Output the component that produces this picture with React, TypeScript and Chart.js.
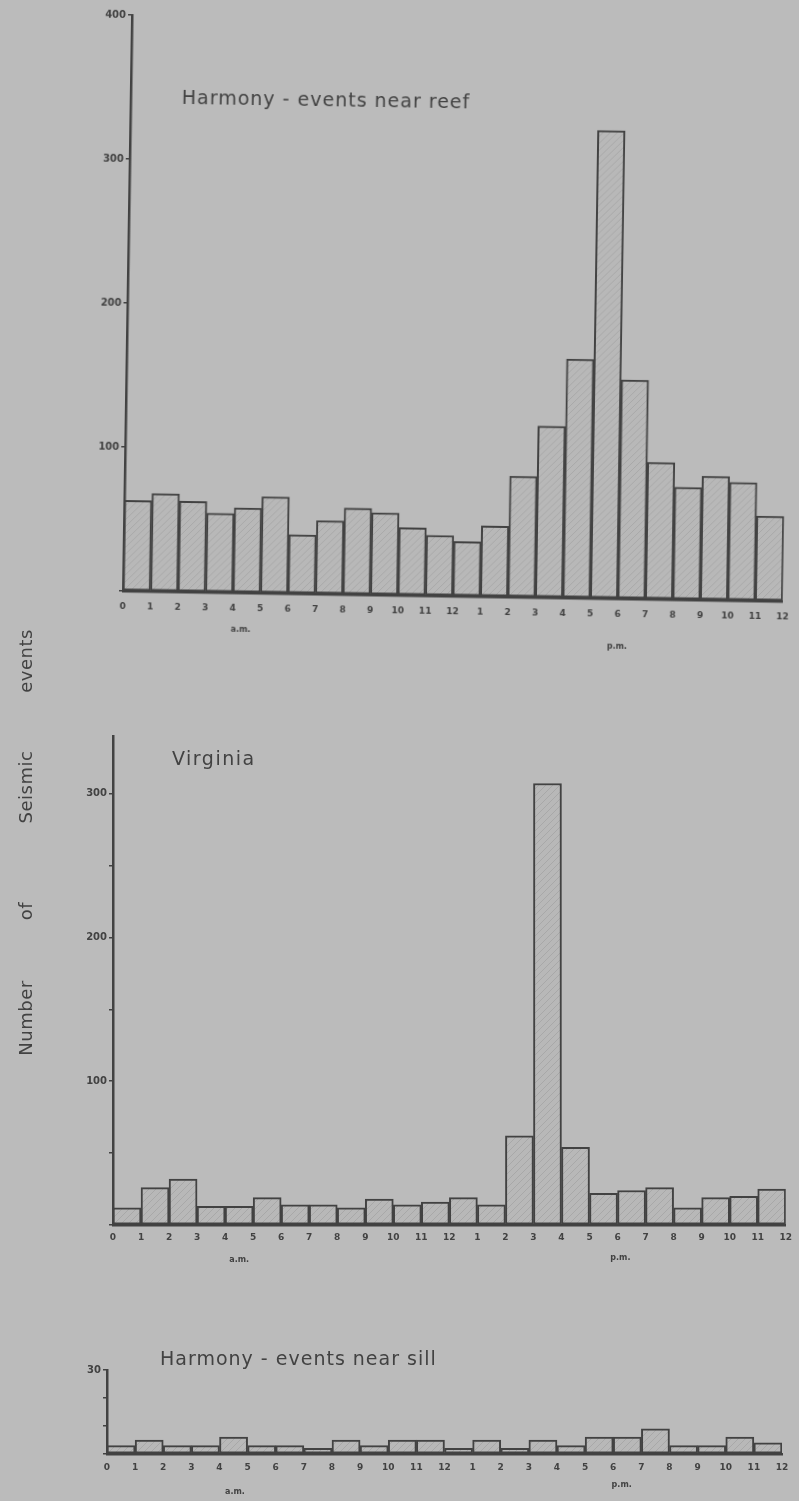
import React, { useEffect, useRef } from 'react';
import { Chart, registerables } from 'chart.js';

Chart.register(...registerables);

// ---------- data ----------
const hourLabels = ['0', '1', '2', '3', '4', '5', '6', '7', '8', '9', '10', '11', '12', '1', '2', '3', '4', '5', '6', '7', '8', '9', '10', '11', '12'];
const periodNames = ['a.m.', 'p.m.'];

const reefCounts = [63, 68, 63, 55, 59, 67, 41, 51, 60, 57, 47, 42, 38, 49, 84, 119, 166, 325, 152, 95, 78, 86, 82, 59];
const virginiaCounts = [12, 26, 32, 13, 13, 19, 14, 14, 12, 18, 14, 16, 19, 14, 62, 307, 54, 22, 24, 26, 12, 19, 20, 25];
const sillCounts = [3, 5, 3, 3, 6, 3, 3, 2, 5, 3, 5, 5, 2, 5, 2, 5, 3, 6, 6, 9, 3, 3, 6, 4];

const reefYTicks = [0, 100, 200, 300, 400];
const reefYLabels = ['', '100', '200', '300', '400'];
const virginiaYTicks = [0, 50, 100, 150, 200, 250, 300];
const virginiaYLabels = ['', '', '100', '', '200', '', '300'];
const sillYTicks = [0, 10, 20, 30];
const sillYLabels = ['', '', '', '30'];

const chartTitles = ['Harmony - events near reef', 'Virginia', 'Harmony - events near sill'];
const axisTitleWords = ['Number', 'of', 'Seismic', 'events'];

// ---------- styles ----------
const PAGE_BG = '#bbbbbb';
const INK = '#424242';
const FONT = "'DejaVu Sans', sans-serif";

Chart.defaults.font.family = FONT;

function makeHatch(): CanvasPattern | string {
  const c = document.createElement('canvas');
  c.width = 7;
  c.height = 7;
  const g = c.getContext('2d');
  if (!g) return '#b7b7b7';
  g.fillStyle = '#b8b8b8';
  g.fillRect(0, 0, 7, 7);
  g.strokeStyle = 'rgba(100,100,100,0.18)';
  g.lineWidth = 1;
  g.beginPath();
  g.moveTo(0, 7); g.lineTo(7, 0);
  g.moveTo(-2, 2); g.lineTo(2, -2);
  g.moveTo(5, 9); g.lineTo(9, 5);
  g.stroke();
  return g.createPattern(c, 'repeat') || '#b7b7b7';
}

const periodLabelPlugin = {
  id: 'periodLabels',
  afterDraw(chart: any, _args: any, opts: any) {
    const { ctx, chartArea } = chart;
    const x = chart.scales.x;
    ctx.save();
    ctx.font = opts.font;
    ctx.fillStyle = opts.color;
    ctx.textAlign = 'center';
    ctx.textBaseline = 'middle';
    (opts.items || []).forEach((it: any) => {
      ctx.fillText(it.text, x.getPixelForValue(it.at), chartArea.bottom + it.dy);
    });
    ctx.restore();
  },
};

type Area = { left: number; top: number; right: number; bottom: number };
type Props = {
  counts: number[];
  yMax: number;
  yTicks: number[];
  yLabels: string[];
  width: number;
  height: number;
  area: Area;
  labelPad: number;
  periods: { at: number; dy: number }[];
};

function Histogram({ counts, yMax, yTicks, yLabels, width, height, area, labelPad, periods }: Props) {
  const ref = useRef<HTMLCanvasElement | null>(null);
  useEffect(() => {
    if (!ref.current) return;
    const hatch = makeHatch();
    const chart = new Chart(ref.current, {
      type: 'bar',
      data: {
        datasets: [
          {
            data: counts.map((v, i) => ({ x: i + 0.5, y: v })),
            backgroundColor: hatch as any,
            borderColor: INK,
            borderWidth: 2,
            borderSkipped: false,
            barPercentage: 1,
            categoryPercentage: 1,
          } as any,
        ],
      },
      options: {
        animation: false,
        responsive: false,
        maintainAspectRatio: false,
        events: [],
        layout: { padding: { left: 0, top: area.top, right: width - area.right, bottom: 0 } },
        plugins: {
          legend: { display: false },
          tooltip: { enabled: false },
          periodLabels: {
            font: `bold 8px ${FONT}`,
            color: INK,
            items: periods.map((p, i) => ({ text: periodNames[i], at: p.at, dy: p.dy })),
          },
        } as any,
        scales: {
          x: {
            type: 'linear',
            min: 0,
            max: 24,
            offset: false,
            grid: { display: false, drawTicks: false },
            border: { display: true, color: INK, width: 2.5 },
            ticks: {
              stepSize: 1,
              autoSkip: false,
              maxRotation: 0,
              minRotation: 0,
              padding: labelPad,
              color: INK,
              font: { size: 9, weight: 'bold' },
              callback: (v: any) => hourLabels[Number(v)] ?? '',
            },
            afterFit: (s: any) => {
              s.height = height - area.bottom;
            },
          },
          y: {
            type: 'linear',
            min: 0,
            max: yMax,
            grid: { display: true, drawOnChartArea: false, drawTicks: true, tickLength: 4, color: INK, lineWidth: 1.5 },
            border: { display: true, color: INK, width: 2.5 },
            ticks: {
              padding: 2,
              color: INK,
              font: { size: 10, weight: 'bold' },
              callback: (_v: any, i: number) => yLabels[i] ?? '',
            },
            afterBuildTicks: (s: any) => {
              s.ticks = yTicks.map((v) => ({ value: v }));
            },
            afterFit: (s: any) => {
              s.width = area.left;
            },
          },
        } as any,
      },
      plugins: [periodLabelPlugin],
    });
    return () => chart.destroy();
  }, []);
  return <canvas ref={ref} width={width} height={height} style={{ position: 'absolute', left: 0, top: 0, width, height }} />;
}

const titleStyle: React.CSSProperties = {
  position: 'absolute',
  transform: 'translateY(-50%)',
  fontFamily: FONT,
  fontSize: 19,
  letterSpacing: 1,
  color: INK,
  whiteSpace: 'nowrap',
  lineHeight: 1,
};

const axisWordCenters = [1018, 911, 787, 661];

export default function App() {
  useEffect(() => {
    document.body.style.background = PAGE_BG;
  }, []);
  return (
    <div
      style={{
        position: 'absolute',
        left: 0,
        top: 0,
        width: 799,
        height: 1501,
        background: PAGE_BG,
        overflow: 'hidden',
        fontFamily: FONT,
        color: INK,
      }}
    >
      {/* Chart 1: Harmony reef (the scan is slightly tilted) */}
      <div
        style={{
          position: 'absolute',
          left: 0,
          top: 0,
          width: 799,
          height: 660,
          transform: 'rotate(0.9deg)',
          transformOrigin: '123px 591px',
        }}
      >
        <Histogram
          counts={reefCounts}
          yMax={400}
          yTicks={reefYTicks}
          yLabels={reefYLabels}
          width={799}
          height={660}
          area={{ left: 123, top: 15, right: 793, bottom: 591 }}
          labelPad={10}
          periods={[{ at: 4.3, dy: 37 }, { at: 18.0, dy: 48 }]}
        />
        <div style={{ ...titleStyle, left: 174, top: 96 }}>{chartTitles[0]}</div>
      </div>

      {/* Chart 2: Virginia */}
      <div style={{ position: 'absolute', left: 0, top: 680, width: 799, height: 600 }}>
        <Histogram
          counts={virginiaCounts}
          yMax={340}
          yTicks={virginiaYTicks}
          yLabels={virginiaYLabels}
          width={799}
          height={600}
          area={{ left: 113, top: 56, right: 788, bottom: 545 }}
          labelPad={7}
          periods={[{ at: 4.5, dy: 35 }, { at: 18.1, dy: 33 }]}
        />
        <div style={{ ...titleStyle, left: 172, top: 78, letterSpacing: 1.5 }}>{chartTitles[1]}</div>
      </div>

      {/* Chart 3: Harmony sill */}
      <div style={{ position: 'absolute', left: 0, top: 1330, width: 799, height: 171 }}>
        <Histogram
          counts={sillCounts}
          yMax={30}
          yTicks={sillYTicks}
          yLabels={sillYLabels}
          width={799}
          height={171}
          area={{ left: 107, top: 40, right: 782, bottom: 124 }}
          labelPad={8}
          periods={[{ at: 4.55, dy: 38 }, { at: 18.3, dy: 31 }]}
        />
        <div style={{ ...titleStyle, left: 160, top: 28 }}>{chartTitles[2]}</div>
      </div>

      {/* Shared vertical axis title */}
      {axisTitleWords.map((w, i) => (
        <div
          key={w}
          style={{
            position: 'absolute',
            left: 26,
            top: axisWordCenters[i],
            transform: 'translate(-50%, -50%) rotate(-90deg)',
            fontSize: 18,
            letterSpacing: 0.5,
            color: INK,
            whiteSpace: 'nowrap',
            lineHeight: 1,
          }}
        >
          {w}
        </div>
      ))}
    </div>
  );
}
